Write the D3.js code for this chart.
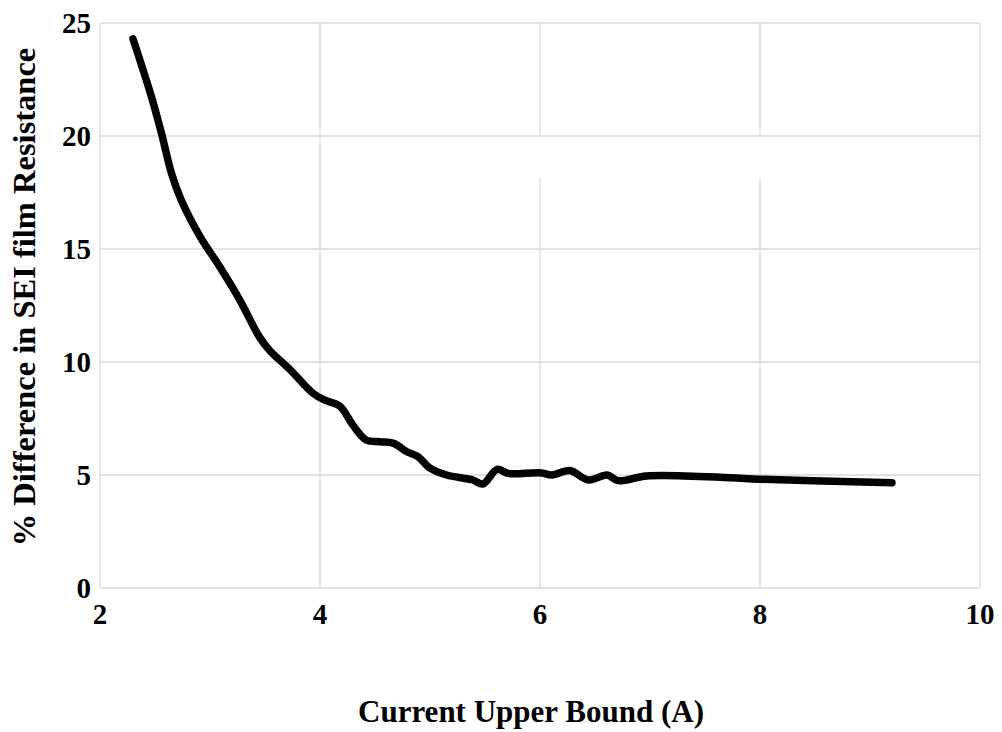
<!DOCTYPE html>
<html>
<head>
<meta charset="utf-8">
<script src="https://cdn.jsdelivr.net/npm/d3@7"></script>
<style>
  html, body { margin: 0; padding: 0; background: #fff; }
  svg { display: block; }
  text { font-family: "Liberation Serif", "Times New Roman", serif; font-weight: bold; fill: #000; }
</style>
</head>
<body>
<svg id="chart" width="1002" height="732"></svg>
<script>
// Current upper bound (A)
const currentA = [2.30, 2.47, 2.56, 2.65, 2.74, 2.91, 3.09, 3.27, 3.45, 3.545, 3.73, 3.94,
  4.05, 4.18, 4.30, 4.42, 4.545, 4.67, 4.79, 4.89, 5.00, 5.15, 5.39, 5.48, 5.61, 5.71,
  6.00, 6.11, 6.27, 6.44, 6.61, 6.71, 6.97, 7.73, 8.00, 9.20];
// % difference in SEI film resistance
const seiDiff = [24.3, 21.7, 20.1, 18.35, 17.15, 15.55, 14.2, 12.75, 11.1, 10.5, 9.65, 8.6,
  8.3, 8.05, 7.2, 6.55, 6.47, 6.40, 6.03, 5.81, 5.30, 5.00, 4.78, 4.60, 5.25, 5.07,
  5.10, 5.00, 5.20, 4.78, 5.00, 4.75, 4.96, 4.88, 4.81, 4.66];

const xTicks = [2, 4, 6, 8, 10];
const yTicks = [0, 5, 10, 15, 20, 25];

const svg = d3.select("#chart");
const plotLeft = 100, plotRight = 980, plotTop = 23, plotBottom = 588;

const x = d3.scaleLinear().domain([2, 10]).range([plotLeft, plotRight]);
const y = d3.scaleLinear().domain([0, 25]).range([plotBottom, plotTop]);

const grid = svg.append("g").attr("stroke", "#d9d9d9").attr("stroke-width", 1.3);

// horizontal gridlines
grid.selectAll("line.h").data(yTicks).join("line")
  .attr("class", "h")
  .attr("x1", plotLeft).attr("x2", plotRight)
  .attr("y1", d => y(d)).attr("y2", d => y(d));

// vertical gridlines; the inner ones are interrupted just below the 20 line
const gapTop = 20, gapBottom = 18.15;
xTicks.forEach(t => {
  if (t === 6 || t === 8) {
    grid.append("line").attr("x1", x(t)).attr("x2", x(t)).attr("y1", y(25)).attr("y2", y(gapTop));
    grid.append("line").attr("x1", x(t)).attr("x2", x(t)).attr("y1", y(gapBottom)).attr("y2", y(0));
  } else {
    grid.append("line").attr("x1", x(t)).attr("x2", x(t)).attr("y1", y(25)).attr("y2", y(0));
  }
});

// y tick labels
svg.append("g").selectAll("text").data(yTicks).join("text")
  .attr("x", plotLeft - 9)
  .attr("y", d => y(d))
  .attr("dy", "0.35em")
  .attr("text-anchor", "end")
  .attr("font-size", 29)
  .text(d => d);

// x tick labels
svg.append("g").selectAll("text").data(xTicks).join("text")
  .attr("x", d => x(d))
  .attr("y", plotBottom + 36)
  .attr("text-anchor", "middle")
  .attr("font-size", 29)
  .text(d => d);

// axis titles
svg.append("text")
  .attr("x", 531).attr("y", 722)
  .attr("text-anchor", "middle")
  .attr("font-size", 31)
  .text("Current Upper Bound (A)");

svg.append("text")
  .attr("transform", "translate(35,297) rotate(-90)")
  .attr("text-anchor", "middle")
  .attr("font-size", 32.5)
  .text("% Difference in SEI film Resistance");

// data curve
const line = d3.line()
  .x((d, i) => x(currentA[i]))
  .y(d => y(d))
  .curve(d3.curveCatmullRom.alpha(0.5));

svg.append("path")
  .datum(seiDiff)
  .attr("fill", "none")
  .attr("stroke", "#000")
  .attr("stroke-width", 7.5)
  .attr("stroke-linecap", "round")
  .attr("stroke-linejoin", "round")
  .attr("d", line);
</script>
</body>
</html>
